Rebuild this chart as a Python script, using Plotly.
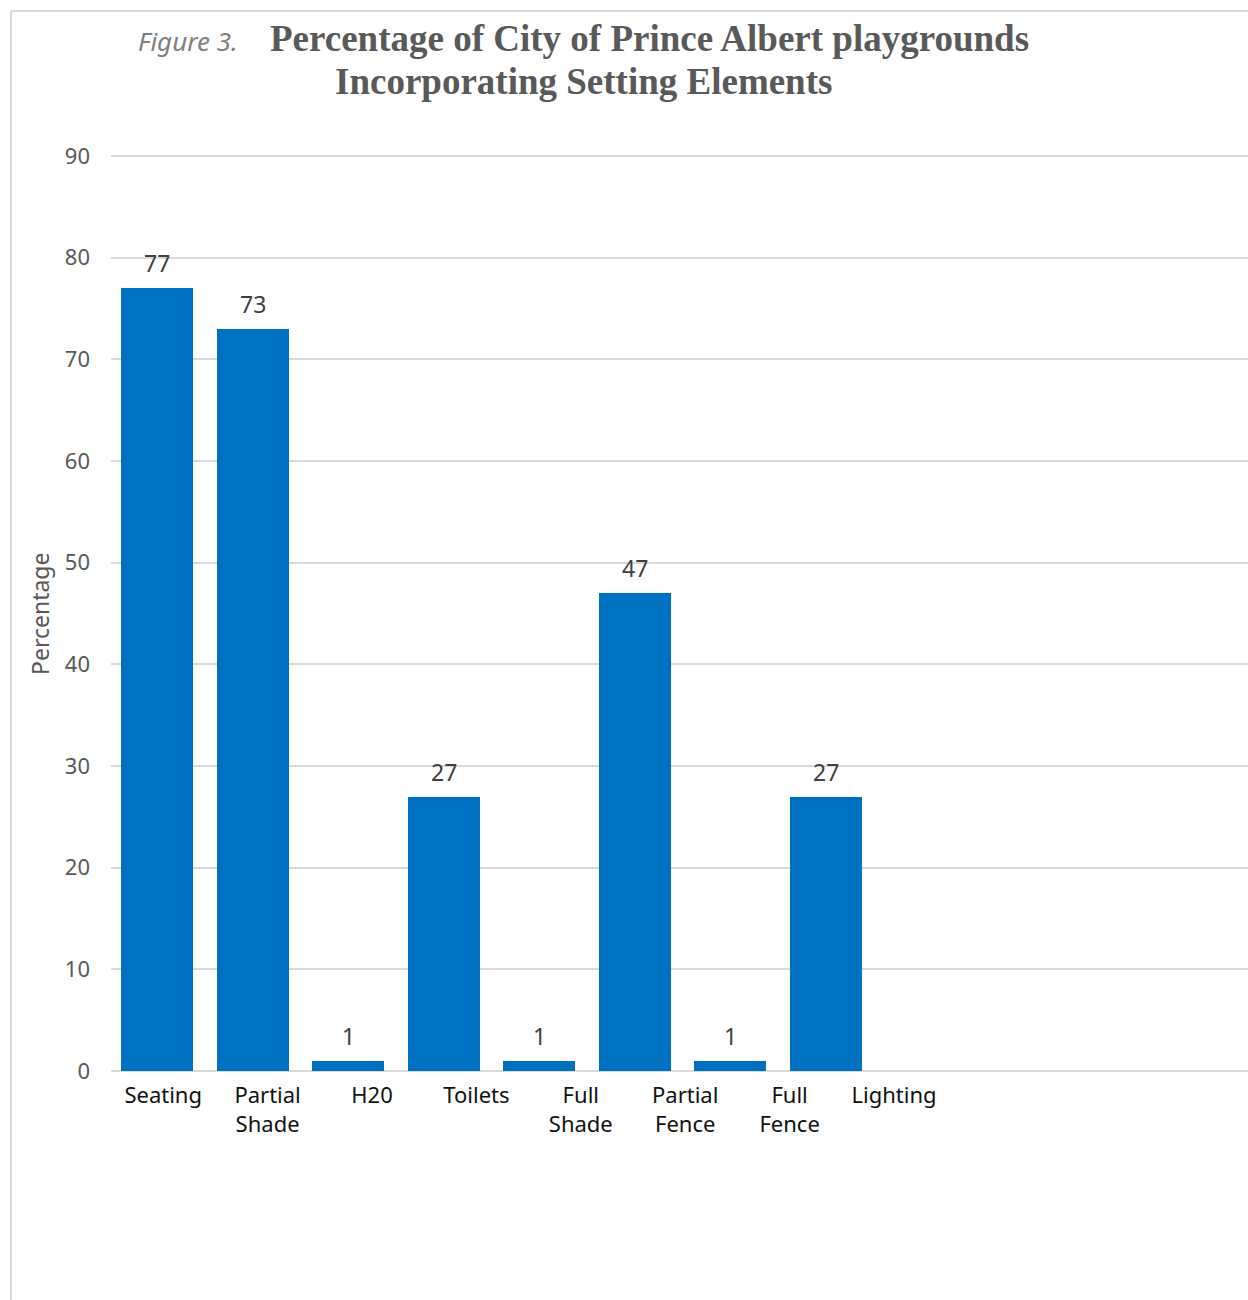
import plotly.graph_objects as go

categories = ["Seating", "Partial<br>Shade", "H20", "Toilets", "Full<br>Shade",
              "Partial<br>Fence", "Full<br>Fence", "Lighting"]
values = [77, 73, 1, 27, 1, 47, 1, 27]
y_ticks = [0, 10, 20, 30, 40, 50, 60, 70, 80, 90]

W, H = 1248, 1300
L, R, T, B = 111, 0, 155, 229
pw, ph = W - L - R, H - T - B

def px(x):
    return (x - L) / pw

def py(y):
    return (H - B - y) / ph

FONT = "Noto Sans"
bar_x = list(range(len(values)))

fig = go.Figure()
fig.add_trace(go.Bar(
    x=bar_x, y=values, marker_color="#0070C0", marker_line_width=0,
    width=0.753, hoverinfo="skip", showlegend=False,
))
# invisible carrier for category label axis
fig.add_trace(go.Scatter(
    x=list(range(len(categories))), y=[0] * len(categories), xaxis="x2",
    mode="markers", marker=dict(opacity=0), hoverinfo="skip", showlegend=False,
))

annotations = []
for i, v in enumerate(values):
    annotations.append(dict(
        x=i, y=v, xref="x", yref="y", text=str(v), showarrow=False,
        yanchor="bottom", yshift=7,
        font=dict(family=FONT, size=23, color="#404040"),
    ))

annotations += [
    dict(x=px(136), y=py(41), xref="paper", yref="paper", text="<i>Figure 3.</i>",
         showarrow=False, xanchor="left", yanchor="middle",
         font=dict(family=FONT, size=26, color="#808080")),
    dict(x=px(268), y=py(38), xref="paper", yref="paper",
         text="<b>Percentage of City of Prince Albert playgrounds</b>",
         showarrow=False, xanchor="left", yanchor="middle",
         font=dict(family="Liberation Serif", size=37, color="#595959")),
    dict(x=px(333), y=py(81), xref="paper", yref="paper",
         text="<b>Incorporating Setting Elements</b>",
         showarrow=False, xanchor="left", yanchor="middle",
         font=dict(family="Liberation Serif", size=37, color="#595959")),
    dict(x=px(40), y=py(614), xref="paper", yref="paper", text="Percentage",
         showarrow=False, textangle=-90, xanchor="center", yanchor="middle",
         font=dict(family=FONT, size=23, color="#595959")),
]

shapes = [
    dict(type="line", xref="paper", yref="paper", x0=px(11), x1=px(11), y0=py(11), y1=py(1300),
         line=dict(color="#d9d9d9", width=2)),
    dict(type="line", xref="paper", yref="paper", x0=px(11), x1=px(1248), y0=py(11), y1=py(11),
         line=dict(color="#d9d9d9", width=2)),
]

fig.update_layout(
    width=W, height=H, autosize=False,
    margin=dict(l=L, r=R, t=T, b=B, pad=0),
    paper_bgcolor="white", plot_bgcolor="white",
    xaxis=dict(range=[-0.481, 11.416], showticklabels=False, showgrid=False,
               zeroline=False, showline=False, fixedrange=True),
    xaxis2=dict(overlaying="x", anchor="y", side="bottom",
                range=[-0.5, -0.5 + pw / 104.4],
                tickvals=list(range(len(categories))), ticktext=categories,
                showgrid=False, zeroline=False, showline=False, ticks="",
                ticklabelstandoff=9,
                tickfont=dict(family=FONT, size=22, color="#111111")),
    yaxis=dict(range=[0, 90.1], tickvals=y_ticks, showgrid=True, gridcolor="#d9d9d9",
               gridwidth=1.5, zeroline=True, zerolinecolor="#d9d9d9", zerolinewidth=1.5,
               showline=False, ticks="", ticklabelstandoff=20,
               tickfont=dict(family=FONT, size=22, color="#595959")),
    annotations=annotations, shapes=shapes,
    bargap=0,
)

fig.write_html("out.html")
